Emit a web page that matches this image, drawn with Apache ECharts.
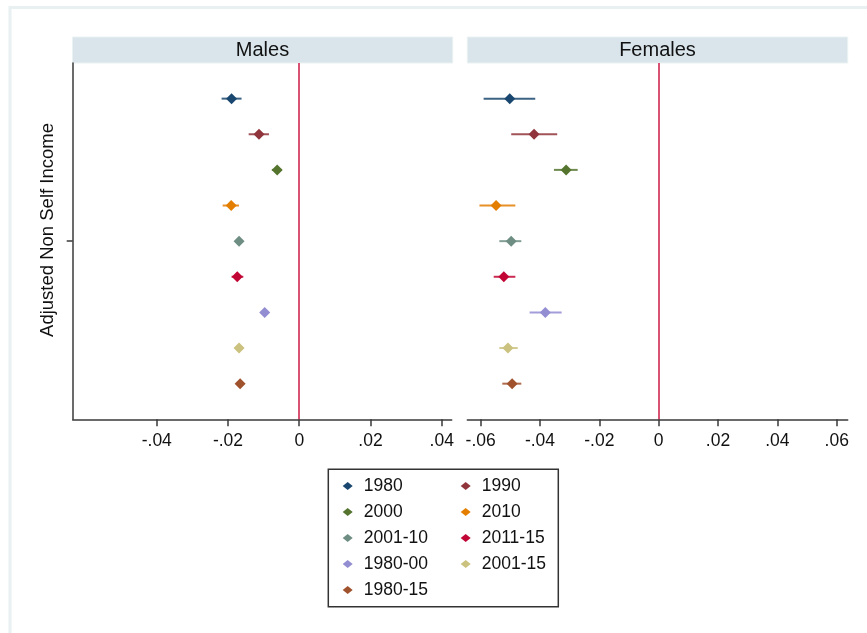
<!DOCTYPE html>
<html>
<head>
<meta charset="utf-8">
<title>Adjusted Non Self Income</title>
<script src="https://cdn.jsdelivr.net/npm/echarts@6/dist/echarts.min.js"></script>
<style>
  body { margin: 0; background: #fff; }
  #main { width: 867px; height: 633px; }
</style>
</head>
<body>
<div id="main"></div>
<script>
// groups, in the order they appear top to bottom
var groups = ['1980', '1990', '2000', '2010', '2001-10', '2011-15', '1980-00', '2001-15', '1980-15'];
var colors = ['#1a476f', '#90353b', '#55752f', '#e37e00', '#6e8e84', '#c10534', '#938dd2', '#cac27e', '#a0522d'];

// Males: estimate and 95% interval
var maleEst = [-0.0190, -0.0113, -0.0062, -0.0191, -0.0169, -0.0174, -0.0097, -0.0169, -0.0166];
var maleLo  = [-0.0218, -0.0142, -0.0077, -0.0215, -0.0177, -0.0190, -0.0105, -0.0176, -0.0172];
var maleHi  = [-0.0162, -0.0085, -0.0049, -0.0169, -0.0161, -0.0157, -0.0089, -0.0162, -0.0160];

// Females
var femaleEst = [-0.0502, -0.0420, -0.0312, -0.0548, -0.0497, -0.0522, -0.0382, -0.0508, -0.0494];
var femaleLo  = [-0.0590, -0.0497, -0.0353, -0.0604, -0.0537, -0.0556, -0.0435, -0.0537, -0.0527];
var femaleHi  = [-0.0416, -0.0342, -0.0273, -0.0483, -0.0463, -0.0483, -0.0327, -0.0475, -0.0463];

var maleTicks = [-0.04, -0.02, 0, 0.02, 0.04];
var femaleTicks = [-0.06, -0.04, -0.02, 0, 0.02, 0.04, 0.06];

var FONT = 'Liberation Sans';
var AXIS = '#3a3a3a';

function fmt(v) {
  if (Math.abs(v) < 1e-9) return '0';
  return (v < 0 ? '-' : '') + Math.abs(v).toFixed(2).replace(/^0/, '');
}

function xAx(idx, min, max, ticks) {
  return {
    type: 'value', gridIndex: idx, min: min, max: max,
    splitLine: { show: false },
    axisLine: { show: true, onZero: false, lineStyle: { color: AXIS, width: 1.5 } },
    axisTick: { show: true, customValues: ticks, length: 7, lineStyle: { color: AXIS, width: 1.5 } },
    axisLabel: { customValues: ticks, formatter: fmt, margin: 13, color: '#111', fontFamily: FONT, fontSize: 17.5 }
  };
}

function errRender(params, api) {
  var a = api.coord([api.value(0), api.value(2)]);
  var b = api.coord([api.value(1), api.value(2)]);
  return {
    type: 'line',
    shape: { x1: a[0], y1: a[1], x2: b[0], y2: b[1] },
    style: { stroke: api.visual('color'), lineWidth: 2, opacity: 0.85 }
  };
}

var series = [];
var panels = [[maleEst, maleLo, maleHi], [femaleEst, femaleLo, femaleHi]];
panels.forEach(function (p, pi) {
  groups.forEach(function (g, i) {
    series.push({
      type: 'custom', name: g, xAxisIndex: pi, yAxisIndex: pi,
      itemStyle: { color: colors[i] },
      encode: { x: [0, 1], y: 2 },
      data: [[p[1][i], p[2][i], i + 1]],
      renderItem: errRender, silent: true
    });
    var s = {
      type: 'scatter', name: g, xAxisIndex: pi, yAxisIndex: pi,
      symbol: 'diamond', symbolSize: [11, 11],
      itemStyle: { color: colors[i], opacity: 1 },
      data: [[p[0][i], i + 1]]
    };
    if (i === 0) {
      s.markLine = {
        silent: true, symbol: 'none', label: { show: false },
        lineStyle: { color: '#cc1846', width: 1.5, type: 'solid' },
        data: [{ xAxis: 0 }]
      };
    }
    series.push(s);
  });
});

var chart = echarts.init(document.getElementById('main'));
chart.setOption({
  animation: false,
  backgroundColor: '#fff',
  grid: [
    { left: 72.7, top: 63, width: 379, height: 356.3 },
    { left: 467.3, top: 63, width: 380.4, height: 356.3 }
  ],
  xAxis: [
    xAx(0, -0.0636, 0.0428, maleTicks),
    xAx(1, -0.0645, 0.0637, femaleTicks)
  ],
  yAxis: [
    {
      type: 'value', gridIndex: 0, min: 0, max: 10, inverse: true,
      splitLine: { show: false },
      axisLine: { show: true, onZero: false, lineStyle: { color: AXIS, width: 1.5 } },
      axisTick: { show: true, customValues: [5], length: 6, lineStyle: { color: AXIS, width: 1.5 } },
      axisLabel: { show: false }
    },
    { type: 'value', gridIndex: 1, min: 0, max: 10, inverse: true, show: false }
  ],
  legend: {
    data: groups.map(function (g) { return { name: g, icon: 'diamond' }; }),
    left: 337.7, top: 468, width: 245,
    orient: 'horizontal', itemGap: 0,
    itemWidth: 10, itemHeight: 8,
    textStyle: { fontFamily: FONT, fontSize: 17.5, color: '#111', lineHeight: 26, width: 97, padding: [0, 0, 0, 6] },
    selectedMode: false
  },
  graphic: [
    { type: 'rect', shape: { x: 10, y: 7.5, width: 900, height: 700 }, style: { fill: 'none', stroke: '#e8f0f1', lineWidth: 3 }, silent: true, z: -10 },
    { type: 'rect', shape: { x: 72.5, y: 37, width: 380.2, height: 26 }, style: { fill: '#d9e5ea', stroke: '#eaf2f4', lineWidth: 1 }, silent: true },
    { type: 'rect', shape: { x: 467.3, y: 37, width: 380.4, height: 26 }, style: { fill: '#d9e5ea', stroke: '#eaf2f4', lineWidth: 1 }, silent: true },
    { type: 'text', x: 262.5, y: 50, style: { text: 'Males', font: '20px "Liberation Sans"', fill: '#111', align: 'center', verticalAlign: 'middle' } },
    { type: 'text', x: 657.5, y: 50, style: { text: 'Females', font: '20px "Liberation Sans"', fill: '#111', align: 'center', verticalAlign: 'middle' } },
    { type: 'text', x: 48, y: 230, rotation: Math.PI / 2, style: { text: 'Adjusted Non Self Income', font: '18.5px "Liberation Sans"', fill: '#111', align: 'center', verticalAlign: 'middle' } },
    { type: 'rect', shape: { x: 328.3, y: 469.3, width: 230, height: 137.4 }, style: { fill: 'none', stroke: '#333', lineWidth: 1.5 }, silent: true }
  ],
  series: series
});
</script>
</body>
</html>
